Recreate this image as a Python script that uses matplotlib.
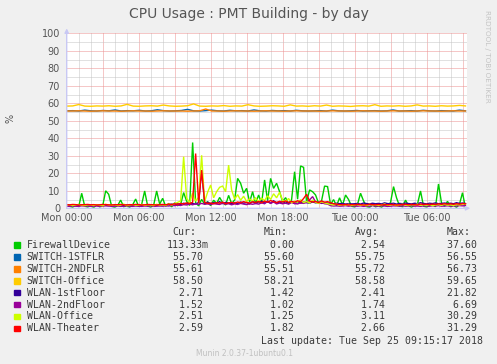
import numpy as np
import matplotlib
matplotlib.use('Agg')
import matplotlib.pyplot as plt

# DADOS (amostras de 15 min a partir de Mon 00:00)
firewall = [2.0, 1.1, 0.6, 1.8, 0.9, 8.6, 1.2, 0.7,
            1.5, 0.4, 1.9, 0.8, 1.3, 10.0, 8.0, 1.1,
            0.5, 1.6, 4.7, 0.9, 1.4, 0.6, 2.0, 5.3,
            1.0, 2.2, 9.9, 1.3, 0.6, 1.8, 9.9, 2.4,
            5.7, 1.2, 2.6, 0.8, 3.1, 1.5, 2.2, 9.0,
            4.0, 1.6, 37.6, 3.2, 1.4, 5.1, 2.3, 3.8,
            1.5, 4.6, 2.8, 6.2, 3.3, 1.9, 7.4, 2.6,
            4.8, 17.1, 14.3, 8.6, 11.4, 3.5, 9.5, 2.7,
            7.6, 3.0, 16.2, 4.4, 17.1, 11.4, 14.3, 9.5,
            3.8, 6.1, 2.5, 4.9, 20.9, 5.2, 24.2, 23.4,
            3.6, 10.5, 9.5, 7.6, 2.9, 4.3, 12.7, 12.4,
            2.1, 5.0, 1.4, 6.0, 1.8, 7.6, 5.0, 1.2,
            0.7, 2.3, 8.6, 4.2, 1.0, 0.5, 1.9, 0.8,
            1.4, 0.6, 2.0, 1.1, 3.4, 12.4, 6.0, 1.3,
            0.9, 4.7, 1.5, 0.6, 1.8, 2.5, 9.9, 1.2,
            0.7, 1.6, 2.2, 0.9, 13.9, 3.0, 1.1, 4.0,
            0.8, 1.7, 0.5, 2.4, 8.9, 0.11]

wlan_office = [1.8, 2.0, 1.6, 1.9, 2.2, 1.7, 1.5, 2.0,
               1.9, 1.6, 2.1, 1.8, 1.4, 2.3, 1.9, 1.7,
               2.0, 1.6, 1.8, 2.4, 1.5, 1.9, 2.1, 1.7,
               1.8, 2.2, 1.6, 2.0, 1.9, 1.5, 2.3, 1.8,
               2.0, 1.7, 2.4, 1.9, 2.6, 3.4, 4.2, 29.5,
               5.8, 3.2, 8.9, 4.1, 6.3, 30.3, 3.8, 9.2,
               13.3, 6.0, 9.5, 12.0, 12.7, 9.5, 24.7, 10.5,
               5.2, 7.8, 4.6, 6.9, 3.9, 5.4, 4.2, 6.1,
               3.6, 5.8, 4.4, 7.2, 5.1, 8.3, 6.0, 9.2,
               4.5, 3.8, 5.6, 3.2, 4.1, 3.5, 4.8, 3.3,
               3.9, 3.0, 4.6, 3.4, 2.8, 3.7, 3.1, 2.6,
               2.2, 1.9, 2.4, 1.7, 2.1, 1.8, 2.3, 1.6,
               1.9, 2.2, 1.7, 2.0, 1.5, 2.3, 1.8, 2.1,
               1.6, 2.0, 2.4, 1.7, 1.9, 2.2, 1.5, 2.0,
               2.3, 1.8, 1.6, 2.1, 1.9, 2.4, 1.7, 2.0,
               1.8, 2.2, 1.5, 1.9, 2.1, 1.7, 2.3, 1.8,
               2.0, 1.6, 2.2, 1.9, 2.4, 2.51]

wlan_theater = [2.1, 2.0, 2.2, 2.1, 1.9, 2.0, 2.1, 2.2,
                2.0, 2.1, 1.9, 2.0, 2.2, 2.1, 2.0, 1.9,
                2.1, 2.0, 2.2, 2.0, 1.9, 2.1, 2.0, 2.2,
                2.1, 1.9, 2.0, 2.2, 2.1, 2.0, 1.9, 2.1,
                2.2, 2.0, 2.4, 2.1, 2.6, 2.3, 2.8, 2.5,
                3.1, 2.7, 3.4, 31.3, 2.9, 21.8, 3.3, 2.8,
                3.0, 2.6, 3.2, 2.9, 3.5, 2.7, 3.1, 3.4,
                2.9, 3.6, 3.2, 3.8, 3.3, 3.0, 3.7, 3.4,
                3.9, 3.2, 4.1, 3.5, 4.4, 3.8, 3.3, 4.0,
                3.6, 4.2, 3.4, 3.9, 3.5, 4.3, 3.7, 5.6,
                8.0, 4.1, 3.6, 3.9, 3.3, 4.2, 3.5, 3.8,
                3.2, 2.6, 2.3, 2.1, 2.0, 2.2, 1.9, 2.1,
                2.0, 2.2, 2.1, 1.9, 2.0, 2.3, 2.1, 2.0,
                2.2, 1.9, 2.1, 2.0, 2.2, 2.1, 1.9, 2.0,
                2.1, 2.3, 2.0, 2.2, 2.1, 1.9, 2.4, 2.2,
                2.3, 2.1, 2.4, 2.2, 2.5, 2.3, 2.6, 2.4,
                2.5, 2.3, 2.6, 2.4, 2.7, 2.59]

wlan_1st = [1.7, 1.6, 1.8, 1.5, 1.7, 1.9, 1.6, 1.8,
            1.7, 1.5, 1.8, 1.6, 1.9, 1.7, 1.5, 1.8,
            1.6, 1.8, 1.7, 1.5, 1.9, 1.6, 1.8, 1.7,
            1.5, 1.8, 1.6, 1.9, 1.7, 1.5, 1.8, 1.6,
            1.9, 1.7, 2.1, 2.4, 2.0, 2.6, 2.2, 2.9,
            2.5, 3.1, 2.7, 2.4, 3.3, 21.8, 2.8, 3.5,
            2.6, 3.2, 2.9, 3.8, 2.7, 3.4, 3.0, 2.6,
            3.1, 2.7, 3.6, 2.9, 3.3, 2.5, 3.9, 2.8,
            3.4, 4.1, 3.0, 3.7, 2.9, 4.3, 3.2, 3.6,
            2.8, 3.5, 3.1, 3.9, 2.7, 3.3, 3.0, 3.6,
            3.2, 2.9, 3.7, 3.1, 3.4, 2.8, 3.3, 3.0,
            2.7, 2.5, 2.9, 2.6, 2.8, 2.4, 2.7, 2.5,
            2.6, 2.8, 2.4, 3.0, 2.7, 2.5, 2.9, 2.6,
            2.8, 2.5, 3.1, 2.7, 2.6, 2.9, 2.4, 2.8,
            2.6, 3.0, 2.7, 2.5, 2.9, 2.6, 3.2, 2.8,
            2.5, 2.9, 2.7, 3.1, 2.6, 2.8, 3.0, 2.7,
            2.9, 2.6, 3.2, 2.8, 3.0, 2.71]

wlan_2nd = [1.2, 1.1, 1.3, 1.2, 1.1, 1.4, 1.2, 1.3,
            1.1, 1.2, 1.3, 1.1, 1.2, 1.4, 1.3, 1.1,
            1.2, 1.3, 1.1, 1.2, 1.4, 1.2, 1.1, 1.3,
            1.2, 1.1, 1.3, 1.2, 1.4, 1.1, 1.2, 1.3,
            1.2, 1.4, 1.3, 1.6, 1.5, 1.8, 1.6, 2.1,
            1.9, 2.4, 2.0, 2.6, 2.2, 2.8, 2.3, 2.5,
            2.1, 2.7, 2.4, 2.2, 2.9, 2.3, 2.6, 2.0,
            2.5, 2.2, 2.8, 2.4, 2.1, 2.6, 2.3, 2.7,
            2.4, 3.1, 2.6, 4.2, 2.8, 3.6, 2.5, 3.0,
            2.6, 2.9, 2.4, 3.3, 2.7, 2.5, 3.1, 2.8,
            3.4, 4.8, 6.69, 3.6, 2.9, 3.2, 2.6, 2.4,
            1.5, 1.3, 1.4, 1.2, 1.3, 1.5, 1.2, 1.4,
            1.3, 1.2, 1.4, 1.1, 1.3, 1.2, 1.5, 1.3,
            1.2, 1.4, 1.3, 1.1, 1.2, 1.4, 1.3, 1.2,
            1.4, 1.2, 1.3, 1.5, 1.2, 1.3, 1.1, 1.4,
            1.3, 1.2, 1.4, 1.3, 1.5, 1.2, 1.3, 1.4,
            1.2, 1.4, 1.3, 1.5, 1.4, 1.52]

# switches (amostras de 30 min)
switch_office = [58.4, 58.5, 59.3, 58.4, 58.3, 58.5, 58.4, 58.6, 58.3, 58.5,
                 59.4, 58.4, 58.3, 58.5, 58.6, 58.4, 59.0, 58.5, 58.3, 58.4,
                 58.6, 59.65, 58.4, 58.3, 58.5, 58.4, 58.7, 58.3, 58.5, 58.4,
                 59.2, 58.5, 58.3, 58.4, 58.6, 58.5, 58.3, 59.1, 58.4, 58.5,
                 58.3, 58.6, 58.4, 59.0, 58.3, 58.5, 58.4, 58.21, 58.5, 58.6,
                 58.4, 59.2, 58.3, 58.5, 58.4, 58.6, 58.3, 58.5, 59.1, 58.4,
                 58.5, 58.3, 58.6, 58.4, 58.5, 58.8, 58.50]

switch_1st = [55.7, 55.8, 55.6, 56.1, 55.7, 55.6, 55.9, 55.7, 56.2, 55.6,
              55.8, 55.7, 56.0, 55.6, 55.7, 56.3, 55.8, 55.6, 55.7, 55.9,
              56.55, 55.7, 55.6, 55.8, 56.1, 55.7, 55.6, 56.0, 55.7, 55.8,
              55.6, 56.2, 55.7, 55.6, 55.9, 55.7, 55.8, 55.6, 56.0, 55.7,
              55.6, 55.7, 55.8, 55.6, 56.1, 55.7, 55.6, 55.7, 55.9, 55.6,
              55.7, 55.8, 55.6, 55.7, 56.2, 55.6, 55.7, 55.8, 55.6, 56.0,
              55.7, 55.6, 55.8, 55.7, 55.6, 56.1, 55.70]

switch_2nd = [55.6, 55.6, 55.7, 55.6, 55.5, 55.6, 55.7, 55.6, 55.6, 55.5,
              55.6, 55.7, 55.6, 55.6, 55.5, 55.6, 55.7, 55.6, 55.6, 55.6,
              55.5, 55.6, 55.7, 56.73, 55.6, 55.6, 55.5, 55.6, 55.7, 55.6,
              55.6, 55.5, 55.6, 55.7, 55.6, 55.6, 55.5, 55.6, 55.7, 55.6,
              55.6, 55.6, 55.5, 55.6, 55.7, 55.6, 55.6, 55.51, 55.6, 55.7,
              55.6, 55.6, 55.5, 55.6, 55.7, 55.6, 55.6, 55.5, 55.6, 55.7,
              55.6, 55.6, 55.5, 55.6, 55.7, 55.6, 55.61]

names = ["FirewallDevice", "SWITCH-1STFLR", "SWITCH-2NDFLR", "SWITCH-Office",
         "WLAN-1stFloor", "WLAN-2ndFloor", "WLAN-Office", "WLAN-Theater"]
colors = ["#00CC00", "#0066B3", "#FF8000", "#FFCC00",
          "#330099", "#990099", "#CCFF00", "#FF0000"]
cur_vals = [0.11333, 55.70, 55.61, 58.50, 2.71, 1.52, 2.51, 2.59]
min_vals = [0.00, 55.60, 55.51, 58.21, 1.42, 1.02, 1.25, 1.82]
avg_vals = [2.54, 55.75, 55.72, 58.58, 2.41, 1.74, 3.11, 2.66]
max_vals = [37.60, 56.55, 56.73, 59.65, 21.82, 6.69, 30.29, 31.29]

tick_hours = [0, 6, 12, 18, 24, 30]
tick_labels = ["Mon 00:00", "Mon 06:00", "Mon 12:00", "Mon 18:00", "Tue 00:00", "Tue 06:00"]
y_ticks = list(range(0, 101, 10))

# FIGURA
W, H = 497, 364
fig = plt.figure(figsize=(W / 100, H / 100), dpi=100, facecolor="#f0f0f0")


def fx(px):
    return px / W


def fy(py):
    return 1 - py / H


ax = fig.add_axes([fx(66.7), fy(208.3), fx(466.7) - fx(66.7), fy(33.3) - fy(208.3)])
ax.set_facecolor("white")
ax.set_xlim(0, 33.35)
ax.set_ylim(0, 100)
for s in ax.spines.values():
    s.set_visible(False)

# grade
dot = (0, (1, 1))
for h in range(1, 34):
    c = "#ec9090" if h % 3 == 0 else "#c4c4c4"
    ax.axvline(h, color=c, lw=0.72, ls=dot, zorder=1)
for v in range(5, 101, 5):
    c = "#ec9090" if v % 10 == 0 else "#c4c4c4"
    ax.axhline(v, color=c, lw=0.72, ls=dot, zorder=1)

t_fine = np.arange(len(firewall)) * 0.25
t_sw = np.linspace(0, 33.25, len(switch_office))

series = [(t_fine, firewall), (t_sw, switch_1st), (t_sw, switch_2nd), (t_sw, switch_office),
          (t_fine, wlan_1st), (t_fine, wlan_2nd), (t_fine, wlan_office), (t_fine, wlan_theater)]
for (tt, vals), c in zip(series, colors):
    ax.plot(tt, vals, color=c, lw=1.0, zorder=3, solid_joinstyle="miter")

# eixos com setas
axc = "#c8c8f4"
ax.annotate("", xy=(0, 1.028), xytext=(0, 0), xycoords="axes fraction",
            arrowprops=dict(arrowstyle="-|>", color=axc, lw=1.0, mutation_scale=6,
                            shrinkA=0, shrinkB=0), annotation_clip=False)
ax.annotate("", xy=(1.009, 0), xytext=(0, 0), xycoords="axes fraction",
            arrowprops=dict(arrowstyle="-|>", color=axc, lw=1.0, mutation_scale=6,
                            shrinkA=0, shrinkB=0), annotation_clip=False)

ax.set_xticks(tick_hours)
ax.set_xticklabels(tick_labels)
ax.set_yticks(y_ticks)
ax.tick_params(axis="both", length=0, labelsize=7, colors="#555555")
ax.tick_params(axis="x", pad=3.5)
ax.tick_params(axis="y", pad=4.8)

# textos
fig.text(fx(248.5), fy(14), "CPU Usage : PMT Building - by day", ha="center", va="center",
         fontsize=10, color="#555555")
fig.text(fx(10.5), fy(118), "%", ha="center", va="center", rotation=90, fontsize=7, color="#555555")
fig.text(fx(487.3), fy(56), "RRDTOOL / TOBI OETIKER", ha="center", va="center", rotation=270,
         fontsize=5.2, color="#c4c4c4")
fig.text(fx(245), fy(353.3), "Munin 2.0.37-1ubuntu0.1", ha="center", va="center",
         fontsize=5.5, color="#c0c0c0")

mono = dict(family="DejaVu Sans Mono", fontsize=7.15, color="#3a3a3a", va="center")
fig.text(fx(172.7), fy(232.3), "Cur:", **mono)
fig.text(fx(264), fy(232.3), "Min:", **mono)
fig.text(fx(355), fy(232.3), "Avg:", **mono)
fig.text(fx(446.7), fy(232.3), "Max:", **mono)


def fmt(v):
    if 0 < v < 1:
        return f"{v * 1000:6.2f}m"
    return f"{v:6.2f}"


row_y0, row_dy = 245.0, 11.9
for i, name in enumerate(names):
    yy = row_y0 + i * row_dy
    fig.patches.append(plt.Rectangle((fx(14), fy(yy + 2.8)), fx(5.6), 5.6 / H,
                                     transform=fig.transFigure, color=colors[i]))
    fig.text(fx(26.7), fy(yy), name, **mono)
    fig.text(fx(166.7), fy(yy), fmt(cur_vals[i]), **mono)
    fig.text(fx(258), fy(yy), fmt(min_vals[i]), **mono)
    fig.text(fx(349), fy(yy), fmt(avg_vals[i]), **mono)
    fig.text(fx(440.7), fy(yy), fmt(max_vals[i]), **mono)

fig.text(fx(482.7), fy(340.7), "Last update: Tue Sep 25 09:15:17 2018", ha="right", **mono)

fig.savefig("out.png", dpi=100, facecolor=fig.get_facecolor())
